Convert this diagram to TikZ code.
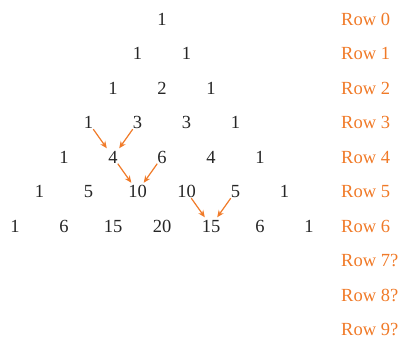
\documentclass[tikz,border=0pt]{standalone}
\usepackage{fontspec}
\setmainfont{Liberation Serif}
\usetikzlibrary{arrows.meta}
\definecolor{rowor}{RGB}{240,122,40}
\begin{document}
\begin{tikzpicture}[x=1pt,y=-1pt,
  num/.style={inner sep=0.5pt, text height=12pt, text depth=0pt, font=\fontsize{18.5}{20}\selectfont, text=black!85},
  lab/.style={anchor=west, inner sep=0pt, text height=12pt, text depth=0pt, font=\fontsize{18.5}{20}\selectfont, text=rowor},
  arr/.style={draw=rowor, line width=1.2pt, -{Stealth[length=7pt,width=6pt]}, shorten >=2.5pt}]
\useasboundingbox (0,0) rectangle (404,338);
\foreach \r/\vals in {0/{1},1/{1,1},2/{1,2,1},3/{1,3,3,1},4/{1,4,6,4,1},5/{1,5,10,10,5,1},6/{1,6,15,20,15,6,1}}{
  \foreach \v [count=\c from 0] in \vals {
    \node[num] (r\r c\c) at ({162+(2*\c-\r)*24.5},{19+\r*34.5}) {\v};
  }
}
\foreach \r/\t in {0/Row 0,1/Row 1,2/Row 2,3/Row 3,4/Row 4,5/Row 5,6/Row 6,7/Row 7?,8/Row 8?,9/Row 9?}{
  \node[lab] (lab\r) at (341,{19+\r*34.5}) {\t};
}
\draw[arr] (r3c0) -- (r4c1);
\draw[arr] (r3c1) -- (r4c1);
\draw[arr] (r4c1) -- (r5c2);
\draw[arr] (r4c2) -- (r5c2);
\draw[arr] (r5c3) -- (r6c4);
\draw[arr] (r5c4) -- (r6c4);
\end{tikzpicture}
\end{document}
